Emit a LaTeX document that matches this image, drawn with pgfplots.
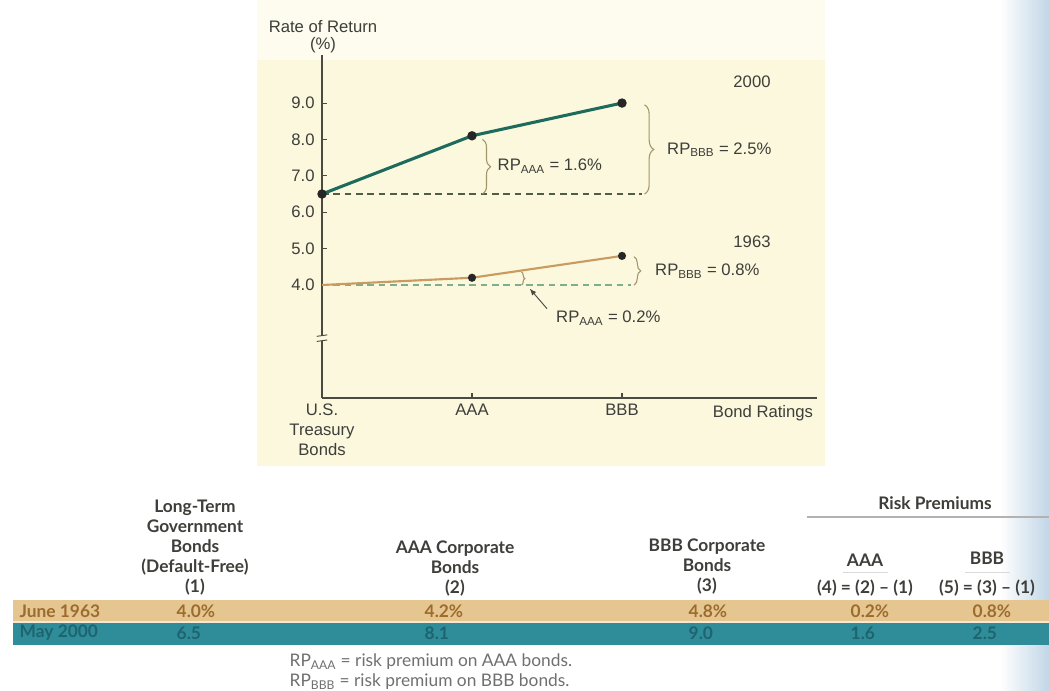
\documentclass[border=0pt]{standalone}
\usepackage{fontspec}
\setmainfont{Liberation Sans}
\newfontfamily\tabfont[Ligatures=TeX]{Lato}
\usepackage{pgfplots}
\pgfplotsset{compat=1.18}
\usetikzlibrary{decorations.pathreplacing,arrows.meta}

\definecolor{panel}{HTML}{FBF8DD}
\definecolor{paneltop}{HTML}{FDFCEF}
\definecolor{axiscol}{HTML}{4A4A42}
\definecolor{txt}{HTML}{3E3E3A}
\definecolor{line2000}{HTML}{1D6B5D}
\definecolor{line1963}{HTML}{C99B60}
\definecolor{dash2000}{HTML}{4F5E48}
\definecolor{dash1963}{HTML}{7DAF8E}
\definecolor{bracecol}{HTML}{A3946A}
\definecolor{tanrow}{HTML}{E6C690}
\definecolor{tealrow}{HTML}{2F8D99}
\definecolor{tantext}{HTML}{9C6B2E}
\definecolor{tealtext}{HTML}{1E6470}
\definecolor{foot}{HTML}{707070}
\definecolor{gutter}{HTML}{C2D6E6}

\newcommand{\chartfont}{\fontsize{12.5}{15}\selectfont}
\newcommand{\headfont}{\tabfont\bfseries\fontsize{13}{15}\selectfont}
\newcommand{\footfont}{\tabfont\fontsize{13}{15}\selectfont}

\begin{document}
\begin{tikzpicture}
\clip (0,0) rectangle (786.75pt,518.25pt);
\fill[white] (0,0) rectangle (786.75pt,518.25pt);

% page furniture in pixel units, origin top left
\begin{scope}[x=0.75pt,y=-0.75pt,yshift=518.25pt]
  \shade[left color=white,right color=gutter] (1000,0) rectangle (1049,691);
  % chart panel
  \fill[panel] (257,0) rectangle (825,466);
  \fill[paneltop] (257,0) rectangle (825,60);
  % chart titles
  \node[txt,font=\chartfont] at (323,27) {Rate of Return};
  \node[txt,font=\chartfont] at (323,45) {(\%)};
  \node[txt,font=\chartfont] at (763,413) {Bond Ratings};
  \node[txt,font=\chartfont] at (752,82) {2000};
  \node[txt,font=\chartfont] at (752,242) {1963};

  % table rows
  \fill[tanrow] (13,600) rectangle (1049,622);
  \fill[tealrow] (13,622) rectangle (1049,645);
  \draw[white!60!tanrow,line width=1.2] (13,622) -- (1049,622);

  % table headers
  \node[txt,font=\headfont,align=center] at (195,548) {Long-Term\\Government\\Bonds\\(Default-Free)\\(1)};
  \node[txt,font=\headfont,align=center] at (455,569) {AAA Corporate\\Bonds\\(2)};
  \node[txt,font=\headfont,align=center] at (707,567) {BBB Corporate\\Bonds\\(3)};
  \node[txt,font=\headfont] at (935,503) {Risk Premiums};
  \draw[gray!60,line width=0.8] (807,517) -- (1049,517);
  \node[txt,font=\headfont] at (865,560) {AAA};
  \node[txt,font=\headfont] at (865,588) {(4) = (2) – (1)};
  \node[txt,font=\headfont] at (987,558) {BBB};
  \node[txt,font=\headfont] at (987,588) {(5) = (3) – (1)};
  \draw[gray!30,line width=0.6] (843,572) -- (888,572);
  \draw[gray!30,line width=0.6] (965,572) -- (1010,572);

  % table body
  \begin{scope}[font=\headfont]
    \node[tantext,anchor=west] at (15,611) {June 1963};
    \node[tantext,anchor=west] at (172,611) {4.0\%};
    \node[tantext,anchor=west] at (420,611) {4.2\%};
    \node[tantext,anchor=west] at (684,611) {4.8\%};
    \node[tantext,anchor=west] at (846,611) {0.2\%};
    \node[tantext,anchor=west] at (968,611) {0.8\%};
    \node[tealtext,anchor=west] at (15,633) {May 2000};
    \node[tealtext,anchor=west] at (172,633) {6.5};
    \node[tealtext,anchor=west] at (420,633) {8.1};
    \node[tealtext,anchor=west] at (684,633) {9.0};
    \node[tealtext,anchor=west] at (846,633) {1.6};
    \node[tealtext,anchor=west] at (968,633) {2.5};
  \end{scope}

  % notes
  \node[foot,anchor=west,font=\footfont] at (285,662) {RP\textsubscript{AAA} = risk premium on AAA bonds.};
  \node[foot,anchor=west,font=\footfont] at (285,682) {RP\textsubscript{BBB} = risk premium on BBB bonds.};
\end{scope}

\begin{axis}[
  at={(241.5pt,219.75pt)}, anchor=south west,
  scale only axis, width=371.25pt, height=257.25pt,
  xmin=0, xmax=3.3, ymin=0.896, ymax=10.32,
  axis lines=left,
  axis line style={draw=axiscol,line width=1.1pt,-},
  tick align=inside,
  major tick length=4pt,
  tick style={draw=axiscol,line width=0.8pt},
  xtick={0,1,2},
  xticklabels={U.S.\\Treasury\\Bonds,AAA,BBB},
  xticklabel style={align=center,font=\chartfont,text=txt,yshift=-1pt},
  ytick={4,5,6,7,8,9},
  yticklabels={4.0,5.0,6.0,7.0,8.0,9.0},
  yticklabel style={font=\chartfont,text=txt,xshift=-2pt},
  clip=false,
]
% risk-free reference levels
\addplot[dash2000,line width=0.9pt,dash pattern=on 5pt off 3.5pt] coordinates {(0,6.5) (2.13,6.5)};
\addplot[dash1963,line width=0.9pt,dash pattern=on 5pt off 3.5pt] coordinates {(0,4.0) (2.06,4.0)};
% yield curves by rating
\addplot[line1963,line width=1.6pt,mark=*,mark size=2.2pt,mark indices={2,3},
  mark options={fill=black!85,draw=black!85}] coordinates {(0,4.0) (1,4.2) (2,4.8)};
\addplot[line2000,line width=2.3pt,mark=*,mark size=2.3pt,
  mark options={fill=black!85,draw=black!85}] coordinates {(0,6.5) (1,8.1) (2,9.0)};

% axis break
\fill[panel] (axis cs:-0.03,2.47) rectangle (axis cs:0.03,2.61);
\draw[axiscol,line width=0.7pt] (axis cs:-0.035,2.45) -- (axis cs:0.035,2.49);
\draw[axiscol,line width=0.7pt] (axis cs:-0.035,2.59) -- (axis cs:0.035,2.63);

% risk premium braces
\draw[bracecol,line width=0.8pt,decorate,decoration={brace,amplitude=6pt}]
  (axis cs:1.07,8.0) -- (axis cs:1.07,6.5);
\node[txt,font=\chartfont,anchor=west] at (axis cs:1.14,7.27) {RP\textsubscript{AAA} = 1.6\%};
\draw[bracecol,line width=0.8pt,decorate,decoration={brace,amplitude=7pt}]
  (axis cs:2.15,8.95) -- (axis cs:2.15,6.5);
\node[txt,font=\chartfont,anchor=west] at (axis cs:2.27,7.72) {RP\textsubscript{BBB} = 2.5\%};
\draw[bracecol,line width=0.8pt,decorate,decoration={brace,amplitude=5pt}]
  (axis cs:2.08,4.78) -- (axis cs:2.08,4.0);
\node[txt,font=\chartfont,anchor=west] at (axis cs:2.19,4.38) {RP\textsubscript{BBB} = 0.8\%};
\draw[bracecol,line width=0.8pt,decorate,decoration={brace,amplitude=2.5pt}]
  (axis cs:1.33,4.36) -- (axis cs:1.33,4.0);
\draw[axiscol,line width=0.7pt,-{Latex[length=5pt,width=4pt]}]
  (axis cs:1.5,3.35) -- (axis cs:1.385,3.9);
\node[txt,font=\chartfont,anchor=west] at (axis cs:1.53,3.09) {RP\textsubscript{AAA} = 0.2\%};
\end{axis}
\end{tikzpicture}
\end{document}
